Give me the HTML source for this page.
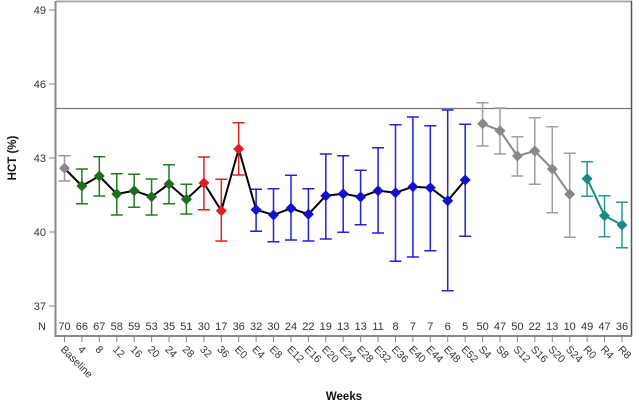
<!DOCTYPE html>
<html><head><meta charset="utf-8"><style>
html,body{margin:0;padding:0;background:#fff;}
svg{display:block;font-family:"Liberation Sans",sans-serif;}
</style></head><body>
<svg width="639" height="402" viewBox="0 0 639 402" xmlns="http://www.w3.org/2000/svg">
<defs><path id="d" d="M0,-5.5 L5.5,0 L0,5.5 L-5.5,0Z"/></defs>
<!-- frame -->
<line x1="56" y1="1.5" x2="632" y2="1.5" stroke="#aaa" stroke-width="2"/>
<line x1="631.5" y1="1" x2="631.5" y2="336" stroke="#555" stroke-width="1.5"/>
<line x1="55.5" y1="1" x2="55.5" y2="337" stroke="#888" stroke-width="2"/>
<line x1="55" y1="336" x2="632" y2="336" stroke="#888" stroke-width="2"/>
<line x1="56" y1="108.5" x2="631" y2="108.5" stroke="#777" stroke-width="1.2"/>
<!-- y ticks -->
<g stroke="#888" stroke-width="1">
<line x1="49" y1="10" x2="55" y2="10"/><line x1="49" y1="84" x2="55" y2="84"/><line x1="49" y1="158" x2="55" y2="158"/><line x1="49" y1="232" x2="55" y2="232"/><line x1="49" y1="306" x2="55" y2="306"/>
</g>
<g font-size="11" fill="#333" text-anchor="end">
<text x="46" y="14">49</text><text x="46" y="88">46</text><text x="46" y="162">43</text><text x="46" y="236">40</text><text x="46" y="310">37</text>
</g>
<text transform="translate(16,158) rotate(-90)" font-size="11.5" font-weight="bold" text-anchor="middle" fill="#111">HCT (%)</text>
<text x="344" y="400" font-size="11.5" font-weight="bold" text-anchor="middle" fill="#111">Weeks</text>
<text x="42" y="330" font-size="11" fill="#333" text-anchor="middle">N</text>
<!-- N row -->
<g font-size="11" fill="#333" text-anchor="middle">
<text x="64.5" y="330">70</text><text x="81.9" y="330">66</text><text x="99.3" y="330">67</text><text x="116.8" y="330">58</text><text x="134.2" y="330">59</text><text x="151.6" y="330">53</text><text x="169" y="330">35</text><text x="186.4" y="330">51</text><text x="203.9" y="330">30</text><text x="221.3" y="330">17</text><text x="238.7" y="330">36</text><text x="256.1" y="330">32</text><text x="273.5" y="330">30</text><text x="291" y="330">24</text><text x="308.4" y="330">22</text><text x="325.8" y="330">19</text><text x="343.2" y="330">13</text><text x="360.6" y="330">13</text><text x="378.1" y="330">11</text><text x="395.5" y="330">8</text><text x="412.9" y="330">7</text><text x="430.3" y="330">7</text><text x="447.7" y="330">6</text><text x="465.2" y="330">5</text><text x="482.6" y="330">50</text><text x="500" y="330">47</text><text x="517.4" y="330">50</text><text x="534.8" y="330">22</text><text x="552.3" y="330">13</text><text x="569.7" y="330">10</text><text x="587.1" y="330">49</text><text x="604.5" y="330">47</text><text x="622" y="330">36</text>
</g>
<!-- x ticks -->
<g stroke="#888" stroke-width="1">
<path d="M64.5 336v6M81.9 336v6M99.3 336v6M116.8 336v6M134.2 336v6M151.6 336v6M169 336v6M186.4 336v6M203.9 336v6M221.3 336v6M238.7 336v6M256.1 336v6M273.5 336v6M291 336v6M308.4 336v6M325.8 336v6M343.2 336v6M360.6 336v6M378.1 336v6M395.5 336v6M412.9 336v6M430.3 336v6M447.7 336v6M465.2 336v6M482.6 336v6M500 336v6M517.4 336v6M534.8 336v6M552.3 336v6M569.7 336v6M587.1 336v6M604.5 336v6M622 336v6"/>
</g>
<g font-size="10.5" fill="#333">
<text transform="translate(60,350) rotate(45)">Baseline</text>
<text transform="translate(77.4,350) rotate(45)">4</text>
<text transform="translate(94.8,350) rotate(45)">8</text>
<text transform="translate(112.3,350) rotate(45)">12</text>
<text transform="translate(129.7,350) rotate(45)">16</text>
<text transform="translate(147.1,350) rotate(45)">20</text>
<text transform="translate(164.5,350) rotate(45)">24</text>
<text transform="translate(181.9,350) rotate(45)">28</text>
<text transform="translate(199.4,350) rotate(45)">32</text>
<text transform="translate(216.8,350) rotate(45)">36</text>
<text transform="translate(234.2,350) rotate(45)">E0</text>
<text transform="translate(251.6,350) rotate(45)">E4</text>
<text transform="translate(269,350) rotate(45)">E8</text>
<text transform="translate(286.5,350) rotate(45)">E12</text>
<text transform="translate(303.9,350) rotate(45)">E16</text>
<text transform="translate(321.3,350) rotate(45)">E20</text>
<text transform="translate(338.7,350) rotate(45)">E24</text>
<text transform="translate(356.1,350) rotate(45)">E28</text>
<text transform="translate(373.6,350) rotate(45)">E32</text>
<text transform="translate(391,350) rotate(45)">E36</text>
<text transform="translate(408.4,350) rotate(45)">E40</text>
<text transform="translate(425.8,350) rotate(45)">E44</text>
<text transform="translate(443.2,350) rotate(45)">E48</text>
<text transform="translate(460.7,350) rotate(45)">E52</text>
<text transform="translate(478.1,350) rotate(45)">S4</text>
<text transform="translate(495.5,350) rotate(45)">S8</text>
<text transform="translate(512.9,350) rotate(45)">S12</text>
<text transform="translate(530.3,350) rotate(45)">S16</text>
<text transform="translate(547.8,350) rotate(45)">S20</text>
<text transform="translate(565.2,350) rotate(45)">S24</text>
<text transform="translate(582.6,350) rotate(45)">R0</text>
<text transform="translate(600,350) rotate(45)">R4</text>
<text transform="translate(617.5,350) rotate(45)">R8</text>
</g>
<!-- error bars -->
<g fill="none" stroke-width="1.5">
<path stroke="#999" d="M64.5 155.7V181M58.5 155.7h12M58.5 181h12"/>
<path stroke="#1e7d1e" d="M81.9 169V203.7M75.9 169h12M75.9 203.7h12M99.3 156.7V196M93.3 156.7h12M93.3 196h12M116.8 173.7V215M110.8 173.7h12M110.8 215h12M134.2 174.3V207.3M128.2 174.3h12M128.2 207.3h12M151.6 179V215M145.6 179h12M145.6 215h12M169 164.7V203.7M163 164.7h12M163 203.7h12M186.4 184.3V214M180.4 184.3h12M180.4 214h12"/>
<path stroke="#e52020" d="M203.9 157V209.7M197.9 157h12M197.9 209.7h12M221.3 179.3V241M215.3 179.3h12M215.3 241h12M238.7 122.7V175M232.7 122.7h12M232.7 175h12"/>
<path stroke="#2020e0" d="M256.1 189.3V231.3M250.1 189.3h12M250.1 231.3h12M273.5 188.7V241.7M267.5 188.7h12M267.5 241.7h12M291 175.3V240M285 175.3h12M285 240h12M308.4 188.7V241M302.4 188.7h12M302.4 241h12M325.8 154V239M319.8 154h12M319.8 239h12M343.2 155.7V232.3M337.2 155.7h12M337.2 232.3h12M360.6 170.3V224.7M354.6 170.3h12M354.6 224.7h12M378.1 147.7V233M372.1 147.7h12M372.1 233h12M395.5 124.7V261.3M389.5 124.7h12M389.5 261.3h12M412.9 117V257M406.9 117h12M406.9 257h12M430.3 125.7V250.7M424.3 125.7h12M424.3 250.7h12M447.7 110V290.7M441.7 110h12M441.7 290.7h12M465.2 124.3V236.3M459.2 124.3h12M459.2 236.3h12"/>
<path stroke="#a0a0a0" d="M482.6 102.7V146M476.6 102.7h12M476.6 146h12M500 108V154M494 108h12M494 154h12M517.4 136.7V176M511.4 136.7h12M511.4 176h12M534.8 117.7V184.3M528.8 117.7h12M528.8 184.3h12M552.3 126.7V212.7M546.3 126.7h12M546.3 212.7h12M569.7 153.3V237.3M563.7 153.3h12M563.7 237.3h12"/>
<path stroke="#2a9a90" d="M587.1 161.7V196.3M581.1 161.7h12M581.1 196.3h12M604.5 195.7V236.7M598.5 195.7h12M598.5 236.7h12M622 202.3V247.7M616 202.3h12M616 247.7h12"/>
</g>
<!-- lines -->
<polyline fill="none" stroke="#000" stroke-width="2" points="64.5,168.3 81.9,186 99.3,176 116.8,194 134.2,190.7 151.6,196.7 169,184 186.4,199.3 203.9,183 221.3,210.7 238.7,149 256.1,209.7 273.5,215 291,208.3 308.4,214.3 325.8,195.7 343.2,193.7 360.6,197 378.1,190.7 395.5,192.7 412.9,186.7 430.3,187.7 447.7,200.7 465.2,180"/>
<polyline fill="none" stroke="#888" stroke-width="2" points="482.6,123.7 500,130.7 517.4,156 534.8,151 552.3,169 569.7,194.3"/>
<polyline fill="none" stroke="#1a8a80" stroke-width="2" points="587.1,178.7 604.5,215.7 622,225"/>
<!-- markers -->
<g fill="#888"><use href="#d" x="64.5" y="168.3"/></g>
<g fill="#1e6e1e"><use href="#d" x="81.9" y="186"/><use href="#d" x="99.3" y="176"/><use href="#d" x="116.8" y="194"/><use href="#d" x="134.2" y="190.7"/><use href="#d" x="151.6" y="196.7"/><use href="#d" x="169" y="184"/><use href="#d" x="186.4" y="199.3"/></g>
<g fill="#e02020"><use href="#d" x="203.9" y="183"/><use href="#d" x="221.3" y="210.7"/><use href="#d" x="238.7" y="149"/></g>
<g fill="#1010d0"><use href="#d" x="256.1" y="209.7"/><use href="#d" x="273.5" y="215"/><use href="#d" x="291" y="208.3"/><use href="#d" x="308.4" y="214.3"/><use href="#d" x="325.8" y="195.7"/><use href="#d" x="343.2" y="193.7"/><use href="#d" x="360.6" y="197"/><use href="#d" x="378.1" y="190.7"/><use href="#d" x="395.5" y="192.7"/><use href="#d" x="412.9" y="186.7"/><use href="#d" x="430.3" y="187.7"/><use href="#d" x="447.7" y="200.7"/><use href="#d" x="465.2" y="180"/></g>
<g fill="#888"><use href="#d" x="482.6" y="123.7"/><use href="#d" x="500" y="130.7"/><use href="#d" x="517.4" y="156"/><use href="#d" x="534.8" y="151"/><use href="#d" x="552.3" y="169"/><use href="#d" x="569.7" y="194.3"/></g>
<g fill="#1a8a80"><use href="#d" x="587.1" y="178.7"/><use href="#d" x="604.5" y="215.7"/><use href="#d" x="622" y="225"/></g>
</svg>
</body></html>
